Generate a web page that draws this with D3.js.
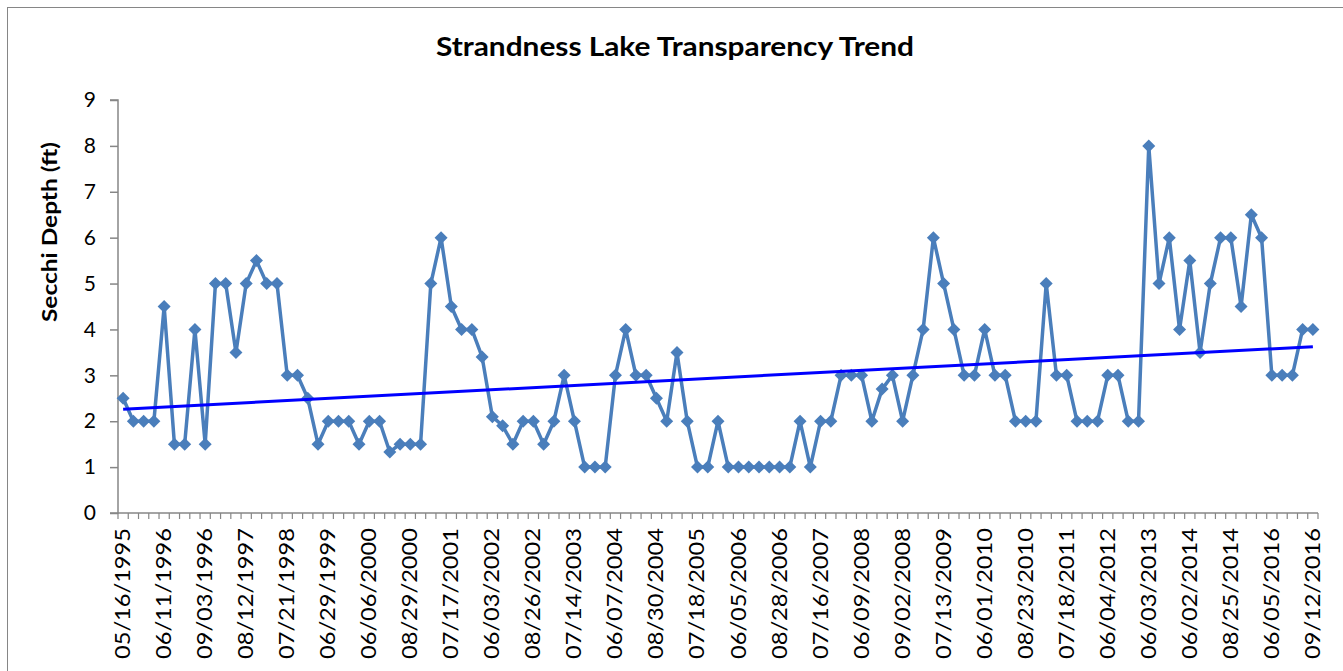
<!DOCTYPE html>
<html>
<head>
<meta charset="utf-8">
<script src="https://cdn.jsdelivr.net/npm/d3@7"></script>
<style>
  html, body { margin: 0; padding: 0; background: #fff; }
  svg { display: block; }
  text { font-family: Lato, "Open Sans", sans-serif; fill: #000; }
</style>
</head>
<body>
<svg id="chart" width="1343" height="671"></svg>
<script>
// ---- data ----
const dates = [
  "05/16/1995","","","",
  "06/11/1996","","","",
  "09/03/1996","","","",
  "08/12/1997","","","",
  "07/21/1998","","","",
  "06/29/1999","","","",
  "06/06/2000","","","",
  "08/29/2000","","","",
  "07/17/2001","","","",
  "06/03/2002","","","",
  "08/26/2002","","","",
  "07/14/2003","","","",
  "06/07/2004","","","",
  "08/30/2004","","","",
  "07/18/2005","","","",
  "06/05/2006","","","",
  "08/28/2006","","","",
  "07/16/2007","","","",
  "06/09/2008","","","",
  "09/02/2008","","","",
  "07/13/2009","","","",
  "06/01/2010","","","",
  "08/23/2010","","","",
  "07/18/2011","","","",
  "06/04/2012","","","",
  "06/03/2013","","","",
  "06/02/2014","","","",
  "08/25/2014","","","",
  "06/05/2016","","","",
  "09/12/2016"
];
const secchi = [
  2.5, 2, 2, 2, 4.5, 1.5, 1.5, 4, 1.5, 5,
  5, 3.5, 5, 5.5, 5, 5, 3, 3, 2.5, 1.5,
  2, 2, 2, 1.5, 2, 2, 1.33, 1.5, 1.5, 1.5,
  5, 6, 4.5, 4, 4, 3.4, 2.1, 1.9, 1.5, 2,
  2, 1.5, 2, 3, 2, 1, 1, 1, 3, 4,
  3, 3, 2.5, 2, 3.5, 2, 1, 1, 2, 1,
  1, 1, 1, 1, 1, 1, 2, 1, 2, 2,
  3, 3, 3, 2, 2.7, 3, 2, 3, 4, 6,
  5, 4, 3, 3, 4, 3, 3, 2, 2, 2,
  5, 3, 3, 2, 2, 2, 3, 3, 2, 2,
  8, 5, 6, 4, 5.5, 3.5, 5, 6, 6, 4.5,
  6.5, 6, 3, 3, 3, 4, 4
];
const yTicks = [0, 1, 2, 3, 4, 5, 6, 7, 8, 9];
const titleText = "Strandness Lake Transparency Trend";
const yTitle = "Secchi Depth (ft)";

// ---- layout ----
const svg = d3.select("#chart");
const plot = { left: 118, right: 1318, top: 100, bottom: 513 };
const idx = d3.range(secchi.length);

svg.append("rect")
  .attr("x", 7.5).attr("y", 7.5)
  .attr("width", 1400).attr("height", 700)
  .attr("fill", "#fff").attr("stroke", "#868686").attr("stroke-width", 1);

const x = d3.scaleBand().domain(idx).range([plot.left, plot.right]).padding(0);
const y = d3.scaleLinear().domain([0, 9]).range([plot.bottom, plot.top]);
const cx = i => x(i) + x.bandwidth() / 2;

// title
svg.append("text")
  .attr("x", 675).attr("y", 56)
  .attr("text-anchor", "middle")
  .attr("font-size", 27).attr("font-weight", "bold")
  .attr("textLength", 478).attr("lengthAdjust", "spacingAndGlyphs")
  .text(titleText);

// y axis
const yAxis = d3.axisLeft(y).tickValues(yTicks).tickSize(8).tickPadding(14).tickFormat(d3.format("d"));
const gy = svg.append("g").attr("transform", `translate(${plot.left},0)`).call(yAxis);
gy.select(".domain").attr("stroke", "#868686").attr("stroke-width", 1.5).attr("d", `M-8,${plot.bottom}H0V${plot.top}H-8`);
gy.selectAll(".tick line").attr("stroke", "#868686").attr("stroke-width", 1.5);
gy.selectAll(".tick text").attr("font-size", 21).attr("fill", "#000").style("font-family", "Lato, sans-serif");

// y title
svg.append("text")
  .attr("transform", "translate(57,232) rotate(-90)")
  .attr("text-anchor", "middle")
  .attr("font-size", 20).attr("font-weight", "bold")
  .attr("textLength", 180).attr("lengthAdjust", "spacingAndGlyphs")
  .text(yTitle);

// x axis line and ticks at category boundaries
const gx = svg.append("g");
gx.append("line")
  .attr("x1", plot.left).attr("x2", plot.right)
  .attr("y1", plot.bottom).attr("y2", plot.bottom)
  .attr("stroke", "#868686").attr("stroke-width", 1.5);
const boundaries = idx.map(i => x(i)).concat([x(idx[idx.length - 1]) + x.bandwidth()]);
gx.selectAll("line.tk").data(boundaries).enter().append("line")
  .attr("class", "tk")
  .attr("x1", d => d).attr("x2", d => d)
  .attr("y1", plot.bottom).attr("y2", plot.bottom + 6)
  .attr("stroke", "#868686").attr("stroke-width", 1.2);

// x labels
gx.selectAll("text.xl").data(idx.filter(i => dates[i] !== "")).enter().append("text")
  .attr("class", "xl")
  .attr("transform", i => `translate(${cx(i) + 7},${plot.bottom + 15}) rotate(-90)`)
  .attr("text-anchor", "end")
  .attr("font-size", 21)
  .attr("textLength", 131).attr("lengthAdjust", "spacingAndGlyphs")
  .text(i => dates[i]);

// data line
const line = d3.line().x(i => cx(i)).y(i => y(secchi[i]));
svg.append("path")
  .datum(idx)
  .attr("d", line)
  .attr("fill", "none")
  .attr("stroke", "#4A7EBB")
  .attr("stroke-width", 3.5)
  .attr("stroke-linejoin", "round");

// markers
const dm = 6.5;
svg.selectAll("path.mk").data(idx).enter().append("path")
  .attr("class", "mk")
  .attr("transform", i => `translate(${cx(i)},${y(secchi[i])})`)
  .attr("d", `M0,${-dm}L${dm},0L0,${dm}L${-dm},0Z`)
  .attr("fill", "#4A7EBB");

// linear trend (least squares over point sequence)
const n = secchi.length;
const xs = idx.map(i => i + 1);
const mx = d3.mean(xs), my = d3.mean(secchi);
const slope = d3.sum(xs.map((v, k) => (v - mx) * (secchi[k] - my))) / d3.sum(xs.map(v => (v - mx) * (v - mx)));
const intercept = my - slope * mx;
svg.append("line")
  .attr("x1", cx(0)).attr("y1", y(intercept + slope * 1))
  .attr("x2", cx(n - 1)).attr("y2", y(intercept + slope * n))
  .attr("stroke", "#0000FF").attr("stroke-width", 3);
</script>
</body>
</html>
